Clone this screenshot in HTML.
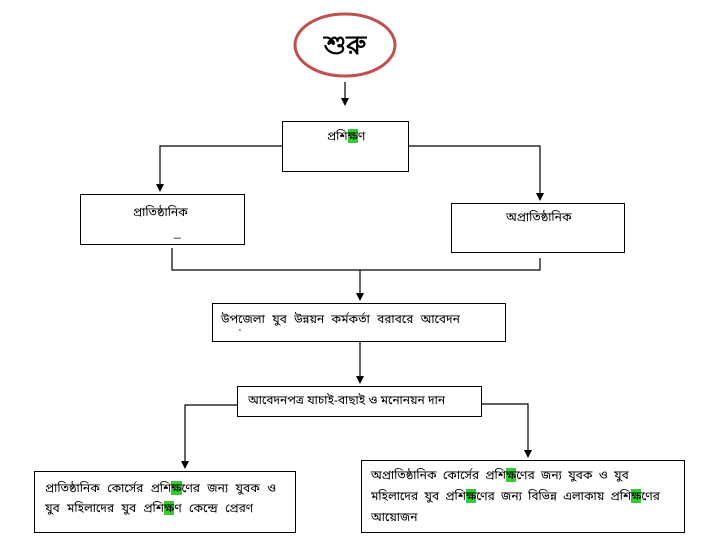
<!DOCTYPE html>
<html><head><meta charset="utf-8"><style>
body{margin:0;width:710px;height:552px;background:#fff;position:relative;overflow:hidden;font-family:"Liberation Sans","Noto Sans Bengali","Lohit Bengali",sans-serif;color:#000}
.b{position:absolute;border:1.5px solid #000;box-sizing:border-box;background:#fff;font-size:12px}
.t{position:absolute;white-space:nowrap;font-size:12px}
.g{background:#33cc33}
svg{position:absolute;left:0;top:0}
</style></head><body>
<svg width="710" height="552">
<defs><marker id="a" markerWidth="8" markerHeight="8" refX="7" refY="4" orient="auto" markerUnits="userSpaceOnUse"><path d="M0,0L8,4L0,8z"/></marker></defs>
<ellipse cx="345" cy="45" rx="50" ry="31" fill="#fff" stroke="#c0504d" stroke-width="3"/>
<g stroke="#000" stroke-width="1.2" fill="none">
<line x1="345" y1="82" x2="345" y2="105" marker-end="url(#a)"/>
<polyline points="282,146 160,146 160,191" marker-end="url(#a)"/>
<polyline points="409,146 540,146 540,200" marker-end="url(#a)"/>
<polyline points="172,248 172,270 540,270 540,258"/>
<line x1="360" y1="270" x2="360" y2="300" marker-end="url(#a)"/>
<line x1="360" y1="342" x2="360" y2="383" marker-end="url(#a)"/>
<polyline points="237,405 185,405 185,468" marker-end="url(#a)"/>
<polyline points="482,404 528,404 528,457" marker-end="url(#a)"/>
</g>
<text x="345" y="54" font-size="26" font-weight="bold" text-anchor="middle" font-family="Liberation Sans, sans-serif">শুরু</text>
</svg>
<div class="b" style="left:282px;top:121px;width:127px;height:51px"><div class="t" style="left:44px;top:7px">প্রশি<span class="g">ক্ষ</span>ণ</div></div>
<div class="b" style="left:80px;top:194px;width:165px;height:51px"><div class="t" style="left:52px;top:10px">প্রাতিষ্ঠানিক</div><div class="t" style="left:93px;top:30px">_</div></div>
<div class="b" style="left:451px;top:203px;width:174px;height:50px"><div class="t" style="left:54px;top:6px">অপ্রাতিষ্ঠানিক</div></div>
<div class="b" style="left:212px;top:303px;width:294px;height:39px"><div class="t" style="left:8px;top:8px;word-spacing:4px">উপজেলা যুব উন্নয়ন কর্মকর্তা বরাবরে আবেদন</div><div class="t" style="left:26px;top:24px;font-size:10px">'</div></div>
<div class="b" style="left:237px;top:386px;width:245px;height:31px"><div class="t" style="left:10px;top:6px">আবেদনপত্র যাচাই-বাছাই ও মনোনয়ন দান</div></div>
<div class="b" style="left:34px;top:471px;width:262px;height:62px"><div class="t" style="left:10px;top:6px;line-height:20px;word-spacing:4px">প্রাতিষ্ঠানিক কোর্সের প্রশি<span class="g">ক্ষ</span>ণের জন্য যুবক ও<br>যুব মহিলাদের যুব প্রশি<span class="g">ক্ষ</span>ণ কেন্দ্রে প্রেরণ</div></div>
<div class="b" style="left:361px;top:460px;width:324px;height:73px"><div class="t" style="left:9px;top:4px;line-height:21px;word-spacing:3px">অপ্রাতিষ্ঠানিক কোর্সের প্রশি<span class="g">ক্ষ</span>ণের জন্য যুবক ও যুব<br>মহিলাদের যুব প্রশি<span class="g">ক্ষ</span>ণের জন্য বিভিন্ন এলাকায় প্রশি<span class="g">ক্ষ</span>ণের<br>আয়োজন</div></div>
</body></html>
